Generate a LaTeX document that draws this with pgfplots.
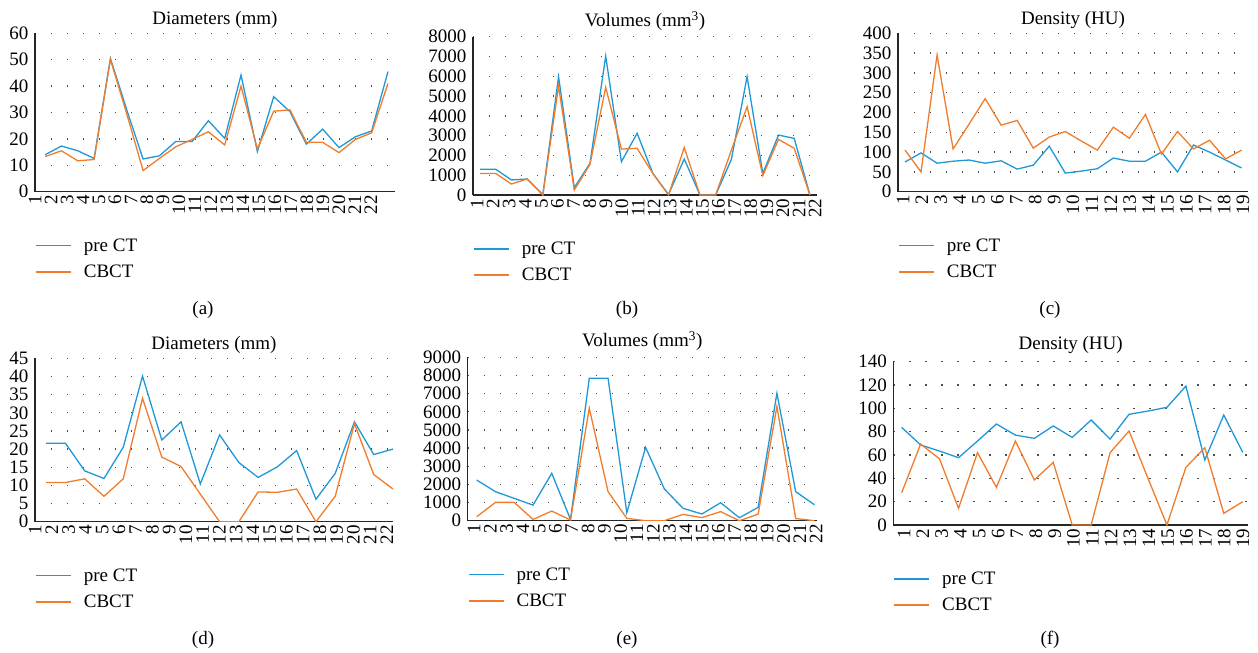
\documentclass[border=0pt]{standalone}
\usepackage{fontspec}
\setmainfont{Liberation Serif}
\usepackage{pgfplots}
\pgfplotsset{compat=1.18}
\definecolor{preblue}{RGB}{30,152,214}
\definecolor{cbor}{RGB}{240,124,44}
\newcommand{\fs}{\fontsize{19}{22}\selectfont}
\pgfplotsset{
 panel/.style={
  scale only axis,
  axis lines*=left,
  axis line style={black!85, line width=1.3pt},
  ymin=0,
  major tick length=0pt,
  tick style={draw=none},
  ymajorgrids,
  y grid style={black!70, line width=1.4pt, dash pattern=on 1.4pt off 14.6pt},
  font=\fs,
  xticklabel style={rotate=90, anchor=east, font=\fs},
  yticklabel style={font=\fs, xshift=-3pt},
  /pgf/number format/assume math mode=true,
  /pgf/number format/set thousands separator={},
  title style={at={(0.5,1)}, anchor=base, font=\fs},
  legend style={draw=none, fill=none, at={(0,0)}, anchor=north west, inner sep=0pt, yshift=-47pt, font=\fs, row sep=12pt, column sep=12pt, nodes={inner sep=0pt}},
  legend cell align=left,
  legend image code/.code={\draw[##1, line width=1.7pt] (0pt,0.3pt) -- (35pt,0.3pt);},
  every axis plot/.append style={line width=1.3pt, mark=none},
 },
 pre/.style={color=preblue},
 cb/.style={color=cbor},
}
\begin{document}
\begin{tikzpicture}
\useasboundingbox (0,0) rectangle (1258pt,-653pt);
% (a)
\begin{axis}[panel, at={(35pt,-191.7pt)}, anchor=south west, width=360pt, height=158.4pt,
  xmin=0.38, xmax=22.43, ymax=60, ytick={0,10,...,60},
  title={Diameters (mm)}, title style={yshift=3pt},
  xtick={0.388,1.367,2.346,3.325,4.304,5.283,6.262,7.241,8.220,9.199,10.178,11.157,12.136,13.115,14.094,15.073,16.052,17.031,18.010,18.989,19.968,20.947},
  xticklabels={1,2,3,4,5,6,7,8,9,10,11,12,13,14,15,16,17,18,19,20,21,22}]
\addplot[pre] coordinates {(1,14)(2,17.3)(3,15.5)(4,12.6)(5,50.5)(6,31)(7,12.4)(8,13.6)(9,19)(10,19)(11,26.9)(12,20.2)(13,44.2)(14,15.2)(15,36)(16,30.3)(17,18)(18,23.7)(19,16.7)(20,20.8)(21,23)(22,45.5)};
\addplot[cb] coordinates {(1,13.3)(2,15.5)(3,11.7)(4,12.2)(5,50.1)(6,29.5)(7,8)(8,12.6)(9,17)(10,19.8)(11,22.7)(12,17.7)(13,40)(14,16.2)(15,30.5)(16,31)(17,18.7)(18,18.7)(19,14.8)(20,19.8)(21,22.3)(22,41)};
\legend{pre CT, CBCT}
\end{axis}
% (b)
\begin{axis}[panel, at={(473pt,-195pt)}, anchor=south west, width=344pt, height=158.3pt,
  xmin=0.554, xmax=22.45, ymax=8000, ytick={0,1000,...,8000},
  title={Volumes (mm\textsuperscript{3})}, title style={yshift=4pt},
  xtick={0.809,1.834,2.859,3.883,4.908,5.933,6.958,7.983,9.007,10.032,11.057,12.082,13.107,14.131,15.156,16.181,17.206,18.231,19.255,20.280,21.305,22.330},
  xticklabels={1,2,3,4,5,6,7,8,9,10,11,12,13,14,15,16,17,18,19,20,21,22}]
\addplot[pre] coordinates {(1,1300)(2,1300)(3,760)(4,810)(5,20)(6,5980)(7,370)(8,1600)(9,7020)(10,1680)(11,3120)(12,1090)(13,30)(14,1820)(15,0)(16,0)(17,1800)(18,5980)(19,1090)(20,3030)(21,2860)(22,0)};
\addplot[cb] coordinates {(1,1090)(2,1090)(3,555)(4,810)(5,0)(6,5500)(7,250)(8,1550)(9,5440)(10,2320)(11,2360)(12,1090)(13,0)(14,2400)(15,0)(16,0)(17,2270)(18,4460)(19,980)(20,2810)(21,2360)(22,0)};
\legend{pre CT, CBCT}
\end{axis}
% (c)
\begin{axis}[panel, at={(898pt,-191.7pt)}, anchor=south west, width=350pt, height=158.4pt,
  xmin=0.563, xmax=22.40, ymax=400, ytick={0,50,...,400},
  title={Density (HU)}, title style={yshift=3pt},
  xtick={0.875,2.053,3.232,4.410,5.589,6.767,7.945,9.124,10.302,11.481,12.659,13.837,15.016,16.194,17.373,18.551,19.729,20.908,22.086},
  xticklabels={1,2,3,4,5,6,7,8,9,10,11,12,13,14,15,16,17,18,19}]
\addplot[pre] coordinates {(1,75)(2,98)(3,72)(4,77)(5,80)(6,72)(7,78)(8,57)(9,67)(10,115)(11,47)(12,52)(13,58)(14,85)(15,77)(16,77)(17,100)(18,50)(19,118)(20,100)(21,80)(22,60)};
\addplot[cb] coordinates {(1,105)(2,50)(3,345)(4,108)(5,171)(6,235)(7,168)(8,180)(9,110)(10,138)(11,152)(12,128)(13,105)(14,163)(15,135)(16,195)(17,95)(18,152)(19,108)(20,130)(21,83)(22,105)};
\legend{pre CT, CBCT}
\end{axis}
% (d)
\begin{axis}[panel, at={(35pt,-521.7pt)}, anchor=south west, width=358pt, height=163.4pt,
  xmin=0.42, xmax=19.0, ymax=45, ytick={0,5,...,45},
  title={Diameters (mm)}, title style={yshift=3pt},
  xtick={0.429,1.298,2.168,3.037,3.906,4.776,5.645,6.514,7.383,8.253,9.122,9.991,10.861,11.730,12.599,13.469,14.338,15.207,16.076,16.946,17.815,18.684},
  xticklabels={1,2,3,4,5,6,7,8,9,10,11,12,13,14,15,16,17,18,19,20,21,22}]
\addplot[pre] coordinates {(1,21.6)(2,21.6)(3,14)(4,11.9)(5,20.5)(6,40.1)(7,22.5)(8,27.5)(9,10.4)(10,23.9)(11,16.3)(12,12.2)(13,15.1)(14,19.6)(15,6.2)(16,13.3)(17,27.5)(18,18.5)(19,20)};
\addplot[cb] coordinates {(1,10.8)(2,10.8)(3,11.8)(4,7)(5,11.8)(6,34)(7,17.8)(8,15.2)(9,7.6)(10,0)(11,0)(12,8.2)(13,8.1)(14,9)(15,0)(16,7)(17,27)(18,13)(19,9)};
\legend{pre CT, CBCT}
\end{axis}
% (e)
\begin{axis}[panel, at={(467.7pt,-520.7pt)}, anchor=south west, width=349pt, height=163.4pt,
  xmin=0.52, xmax=19.12, ymax=9000, ytick={0,1000,...,9000},
  title={Volumes (mm\textsuperscript{3})}, title style={yshift=4.6pt},
  xtick={0.856,1.724,2.593,3.461,4.329,5.198,6.066,6.934,7.802,8.671,9.539,10.407,11.276,12.144,13.012,13.881,14.749,15.617,16.485,17.354,18.222,19.090},
  xticklabels={1,2,3,4,5,6,7,8,9,10,11,12,13,14,15,16,17,18,19,20,21,22}]
\addplot[pre] coordinates {(1,2240)(2,1600)(3,1230)(4,860)(5,2610)(6,70)(7,7850)(8,7850)(9,440)(10,4040)(11,1750)(12,680)(13,370)(14,990)(15,165)(16,735)(17,7020)(18,1600)(19,880)};
\addplot[cb] coordinates {(1,220)(2,1010)(3,1010)(4,70)(5,530)(6,40)(7,6200)(8,1600)(9,130)(10,0)(11,0)(12,350)(13,170)(14,500)(15,0)(16,360)(17,6300)(18,120)(19,0)};
\legend{pre CT, CBCT}
\end{axis}
% (f)
\begin{axis}[panel, at={(893.3pt,-525pt)}, anchor=south west, width=354.7pt, height=163.3pt,
  xmin=0.557, xmax=19.28, ymax=140, ytick={0,20,...,140},
  title={Density (HU)}, title style={yshift=6pt},
  xtick={1.121,2.115,3.109,4.103,5.097,6.091,7.085,8.079,9.073,10.067,11.061,12.055,13.049,14.043,15.037,16.031,17.025,18.019,19.013},
  xticklabels={1,2,3,4,5,6,7,8,9,10,11,12,13,14,15,16,17,18,19}]
\addplot[pre] coordinates {(1,83.7)(2,68.6)(3,63.4)(4,57.7)(5,72)(6,86.6)(7,77.1)(8,74.3)(9,84.9)(10,75.1)(11,90)(12,73.7)(13,94.9)(14,97.7)(15,100.9)(16,119.1)(17,55.7)(18,94.3)(19,62.3)};
\addplot[cb] coordinates {(1,27.7)(2,69.4)(3,56.6)(4,14.3)(5,62)(6,32.3)(7,72)(8,38.6)(9,53.7)(10,0)(11,0)(12,62)(13,80.6)(14,40)(15,0)(16,49.4)(17,66.3)(18,10)(19,20)};
\legend{pre CT, CBCT}
\end{axis}
\node[font=\fontsize{19}{22}\selectfont] at (203pt,-310pt) {(a)};
\node[font=\fontsize{19}{22}\selectfont] at (627pt,-310pt) {(b)};
\node[font=\fontsize{19}{22}\selectfont] at (1050pt,-310pt) {(c)};
\node[font=\fontsize{19}{22}\selectfont] at (203pt,-640pt) {(d)};
\node[font=\fontsize{19}{22}\selectfont] at (627pt,-640pt) {(e)};
\node[font=\fontsize{19}{22}\selectfont] at (1050pt,-640pt) {(f)};
\end{tikzpicture}
\end{document}
